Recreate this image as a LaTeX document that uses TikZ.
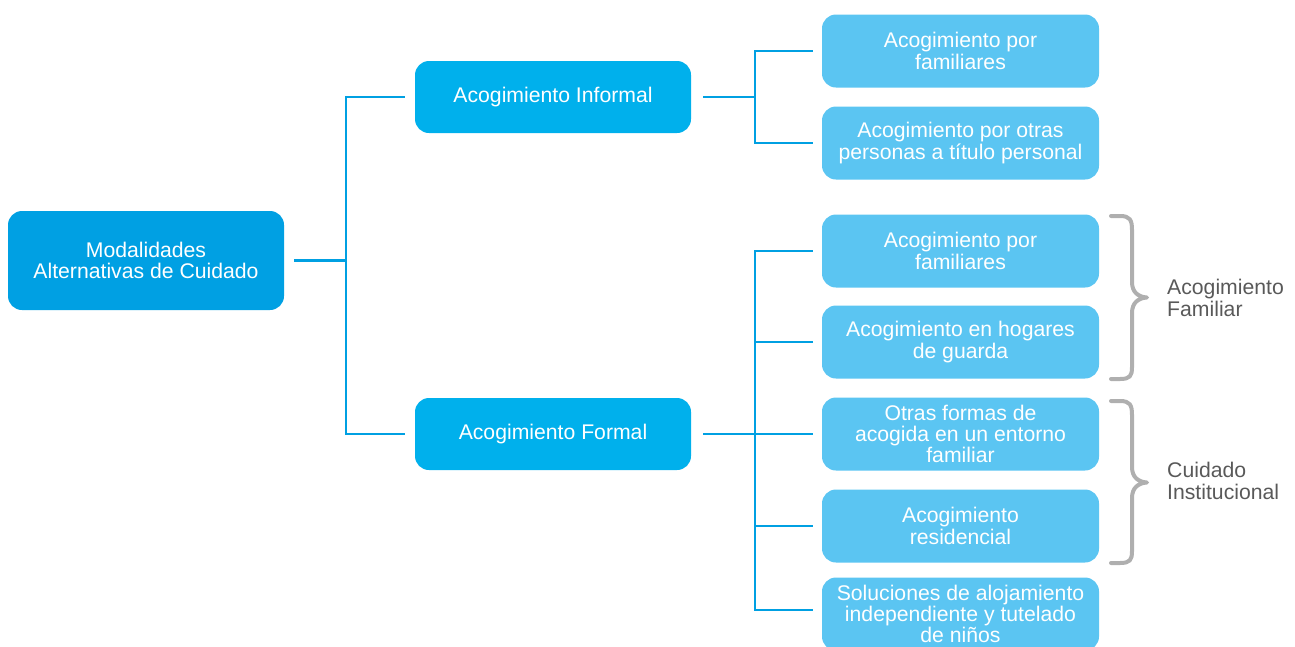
\documentclass[tikz,border=0pt]{standalone}
\usepackage{fontspec}
\setmainfont{Liberation Sans}
\definecolor{rootc}{RGB}{0,160,227}
\definecolor{midc}{RGB}{0,176,236}
\definecolor{leafc}{RGB}{91,197,242}
\definecolor{linec}{RGB}{0,160,226}
\definecolor{bracec}{RGB}{175,175,175}
\definecolor{labc}{RGB}{89,89,89}
\begin{document}
\begin{tikzpicture}[x=1pt,y=-1pt,
  box/.style={rounded corners=14pt, inner sep=0pt, align=center, text=white,
    font=\fontsize{21.2}{21.3}\selectfont},
  rootbox/.style={box, fill=rootc, minimum width=276pt, minimum height=99pt},
  midbox/.style={box, fill=midc, minimum width=276pt, minimum height=72pt},
  leafbox/.style={box, fill=leafc, minimum width=277pt, minimum height=73pt},
  conn/.style={draw=linec, line width=2.8pt},
  bracestyle/.style={draw=bracec, line width=4pt, line cap=round, line join=round},
  lab/.style={anchor=west, align=left, text=labc, inner sep=0pt,
    font=\fontsize{21.2}{21.3}\selectfont}]
\clip (0,0) rectangle (1295,646);
\useasboundingbox (0,0) rectangle (1295,646);

\node[rootbox] (root) at (146,260.5) {Modalidades\\Alternativas de Cuidado};
\node[midbox] (inf) at (553,97) {Acogimiento Informal};
\node[midbox] (form) at (553,434) {Acogimiento Formal};

\node[leafbox] (a1) at (960.5,51) {Acogimiento por\\familiares};
\node[leafbox] (a2) at (960.5,143) {Acogimiento por otras\\personas a título personal};

\node[leafbox] (b1) at (960.5,251) {Acogimiento por\\familiares};
\node[leafbox] (b2) at (960.5,342) {Acogimiento en hogares\\de guarda};
\node[leafbox] (b3) at (960.5,434) {Otras formas de\\acogida en un entorno\\familiar};
\node[leafbox] (b4) at (960.5,526) {Acogimiento\\residencial};
\node[leafbox] (b5) at (960.5,614) {Soluciones de alojamiento\\independiente y tutelado\\de niños};

\coordinate (j1) at (346,0);
\coordinate (j2) at (755,0);

% root to level 2
\draw[conn] ([xshift=10pt]root.east) -- (root.east -| j1);
\draw[conn] ([xshift=-10pt]inf.west) -- (inf.west -| j1) -- (form.west -| j1) -- ([xshift=-10pt]form.west);

% informal
\draw[conn] ([xshift=12pt]inf.east) -- (inf.east -| j2);
\draw[conn] ([xshift=-9pt]a1.west) -- (a1.west -| j2) -- (a2.west -| j2) -- ([xshift=-9pt]a2.west);

% formal
\draw[conn] ([xshift=12pt]form.east) -- (form.east -| j2);
\draw[conn] ([xshift=-9pt]b1.west) -- (b1.west -| j2) -- ([yshift=4pt]b5.west -| j2) -- ([xshift=-9pt,yshift=4pt]b5.west);
\draw[conn] (b2.west -| j2) -- ([xshift=-9pt]b2.west);
\draw[conn] (b3.west -| j2) -- ([xshift=-9pt]b3.west);
\draw[conn] (b4.west -| j2) -- ([xshift=-9pt]b4.west);

% braces
\draw[bracestyle] (1111,216) -- (1120,216) .. controls (1130,216) and (1132,220) .. (1132,230)
  -- (1132,282) .. controls (1132,292) and (1138,297) .. (1147,297.5)
  .. controls (1138,298) and (1132,303) .. (1132,313)
  -- (1132,367) .. controls (1132,376) and (1130,379) .. (1120,379) -- (1111,379);
\draw[bracestyle] (1111,401) -- (1120,401) .. controls (1130,401) and (1132,405) .. (1132,415)
  -- (1132,467) .. controls (1132,477) and (1138,482) .. (1147,482.5)
  .. controls (1138,483) and (1132,488) .. (1132,498)
  -- (1132,551) .. controls (1132,560) and (1130,563) .. (1120,563) -- (1111,563);

\node[lab] (l1) at (1167,298) {Acogimiento\\Familiar};
\node[lab] (l2) at (1167,481) {Cuidado\\Institucional};
\end{tikzpicture}
\end{document}
